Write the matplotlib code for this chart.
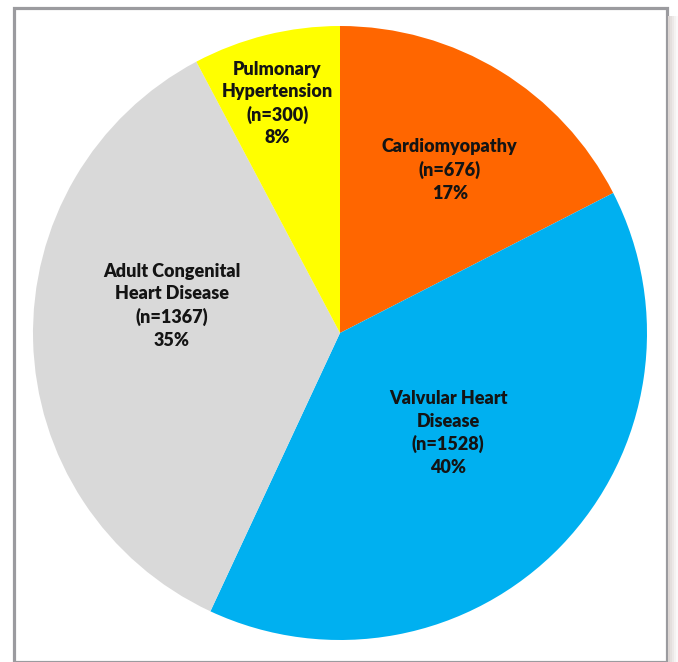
""" pie chart of patient groups """
import numpy as np
from matplotlib import pyplot as plt
from matplotlib import patches

# data
categories = ["Cardiomyopathy", "Valvular Heart\nDisease", "Adult Congenital\nHeart Disease", "Pulmonary\nHypertension"]
counts = [676, 1528, 1367, 300]
percent_labels = ["17%", "40%", "35%", "8%"]
colors = ["#FF6600", "#00B0F0", "#D9D9D9", "#FFFF00"]

# label placement (fraction of radius, angle shift in degrees)
label_radius = [0.64, 0.48, 0.555, 0.775]
label_shift = [-2.5, 1.2, -10.6, 1.3]

W, H = 678, 662
fig = plt.figure(figsize=(W / 100, H / 100), dpi=100)

# pie axis, circle spans x 33..647, y 26..640 (pixels from top)
ax = fig.add_axes([33 / W, (H - 640) / H, 614 / W, 614 / H])
wedges, _ = ax.pie(
    counts,
    colors=colors,
    startangle=90,
    counterclock=False,
    radius=1.0,
    wedgeprops=dict(linewidth=0),
)
ax.set_xlim(-1, 1)
ax.set_ylim(-1, 1)
ax.set_aspect("equal")
ax.axis("off")

for i, w in enumerate(wedges):
    _mid = np.deg2rad((w.theta1 + w.theta2) / 2 + label_shift[i])
    _x = label_radius[i] * np.cos(_mid)
    _y = label_radius[i] * np.sin(_mid)
    _txt = f"{categories[i]}\n(n={counts[i]})\n{percent_labels[i]}"
    ax.text(_x, _y, _txt, ha="center", va="center", fontsize=13,
            fontweight="heavy", family="Lato", color="#141414", linespacing=1.38)

# frame around the chart
frame = patches.Rectangle((13.5 / W, 0), (666.5 - 13.5) / W, (H - 8) / H,
                          transform=fig.transFigure, fill=False,
                          edgecolor="#9B9B9F", linewidth=2.3)
fig.add_artist(frame)

# light shadow on the right
for k, c in enumerate(["#DCD6D4", "#E4DFDD", "#ECE8E7", "#F4F2F1", "#FAF9F9"]):
    shade = patches.Rectangle(((668 + 2 * k) / W, 0), 2 / W, (H - 16) / H,
                              transform=fig.transFigure, facecolor=c,
                              edgecolor="none")
    fig.add_artist(shade)

fig.savefig("out.png", dpi=100)
